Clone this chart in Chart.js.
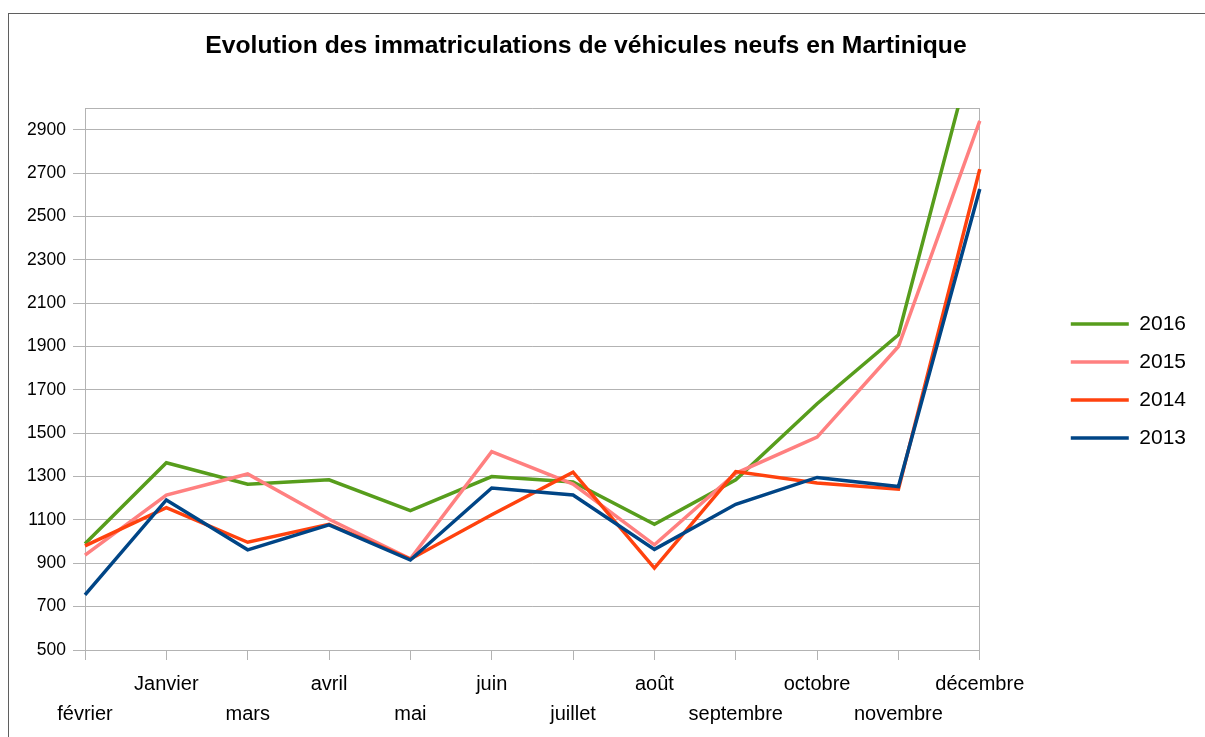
<!DOCTYPE html>
<html>
<head>
<meta charset="utf-8">
<script src="https://cdn.jsdelivr.net/npm/chart.js@4/dist/chart.umd.min.js"></script>
<style>
  html, body { margin: 0; padding: 0; background: #fff; overflow: hidden; }
  #wrap { position: relative; width: 1205px; height: 737px; }
  #frame { position: absolute; left: 8px; top: 13px; width: 1400px; height: 1000px; border: 1px solid #5f5f5f; box-sizing: border-box; }
  canvas { position: absolute; left: 0; top: 0; }
</style>
</head>
<body>
<div id="wrap">
  <div id="frame"></div>
  <canvas id="c" width="1205" height="737"></canvas>
</div>
<script>
const titleText = 'Evolution des immatriculations de véhicules neufs en Martinique';
const months = ['février', 'Janvier', 'mars', 'avril', 'mai', 'juin', 'juillet', 'août', 'septembre', 'octobre', 'novembre', 'décembre'];
const seriesNames = ['2016', '2015', '2014', '2013'];
const s2016 = [990, 1364, 1265, 1285, 1143, 1300, 1275, 1080, 1285, 1636, 1954, 3385];
const s2015 = [938, 1215, 1312, 1103, 921, 1415, 1265, 985, 1315, 1482, 1900, 2941];
const s2014 = [980, 1157, 997, 1080, 919, 1124, 1320, 878, 1323, 1270, 1242, 2718];
const s2013 = [754, 1192, 962, 1077, 915, 1247, 1215, 964, 1172, 1296, 1254, 2626];
const yTicks = [500, 700, 900, 1100, 1300, 1500, 1700, 1900, 2100, 2300, 2500, 2700, 2900];
const yMin = 500;
const yMax = 3000;

const colors = ['#579d1c', '#ff8080', '#ff420e', '#004586'];
const seriesData = [s2016, s2015, s2014, s2013];
const FONT = '"Liberation Sans", Arial, sans-serif';
const GRID = '#b3b3b3';

Chart.defaults.font.family = FONT;
Chart.defaults.color = '#000';

// staggered category labels: even index on the lower row, odd index on the upper row
const xLabels = months.map((m, i) => (i % 2 === 0 ? ['', m] : [m, '']));

const datasets = seriesNames.map((name, i) => ({
  label: name,
  data: seriesData[i],
  borderColor: colors[i],
  backgroundColor: colors[i],
  borderWidth: 3.5,
  pointRadius: 0,
  pointHoverRadius: 0,
  tension: 0,
  fill: false,
  order: seriesNames.length - i,
  clip: { left: 5, right: 5, top: 0, bottom: 5 }
}));

const titlePlugin = {
  id: 'customTitle',
  afterDraw(chart) {
    const c = chart.ctx;
    c.save();
    c.font = 'bold 24.7px ' + FONT;
    c.fillStyle = '#000';
    c.textAlign = 'center';
    c.textBaseline = 'alphabetic';
    c.fillText(titleText, 586, 53);
    c.restore();
  }
};

const legendShift = {
  id: 'legendShift',
  afterLayout(chart) {
    const l = chart.legend;
    if (!l) return;
    const w = l.width;
    const h = l.height;
    l.left = chart.chartArea.right + 74;
    l.right = l.left + w;
    l.top = l.top + 2;
    l.bottom = l.top + h;
  }
};

new Chart(document.getElementById('c'), {
  type: 'line',
  data: { labels: xLabels, datasets },
  options: {
    responsive: false,
    animation: false,
    events: [],
    layout: { padding: { top: 108, left: 0, right: 83, bottom: 0 } },
    scales: {
      x: {
        type: 'category',
        offset: false,
        afterFit: (s) => { s.height = 87; },
        ticks: {
          autoSkip: false,
          maxRotation: 0,
          minRotation: 0,
          padding: 9,
          color: '#000',
          font: { size: 20, lineHeight: 1.5 }
        },
        grid: {
          offset: false,
          tickLength: 10,
          lineWidth: 1,
          color: (ctx) => (ctx.index === 0 || ctx.index === months.length - 1) ? GRID : 'rgba(0,0,0,0)',
          tickColor: GRID
        },
        border: { color: GRID, width: 1 }
      },
      y: {
        min: yMin,
        max: yMax,
        afterBuildTicks: (s) => { s.ticks = [...yTicks, yMax].map(v => ({ value: v })); },
        afterFit: (s) => { s.width = 85; },
        ticks: {
          padding: 7,
          color: '#000',
          font: { size: 17.5 },
          callback: (v) => yTicks.includes(v) ? String(v) : ''
        },
        grid: {
          tickLength: 12,
          lineWidth: 1,
          color: GRID,
          tickColor: (ctx) => (ctx.tick && ctx.tick.value === yMax) ? 'rgba(0,0,0,0)' : GRID
        },
        border: { color: GRID, width: 1 }
      }
    },
    plugins: {
      title: { display: false },
      tooltip: { enabled: false },
      legend: {
        position: 'right',
        fullSize: false,
        align: 'center',
        labels: {
          usePointStyle: true,
          pointStyle: 'line',
          pointStyleWidth: 58,
          boxHeight: 4,
          padding: 17,
          color: '#000',
          font: { size: 21 },
          sort: (a, b) => a.datasetIndex - b.datasetIndex
        }
      }
    }
  },
  plugins: [titlePlugin, legendShift]
});
</script>
</body>
</html>
